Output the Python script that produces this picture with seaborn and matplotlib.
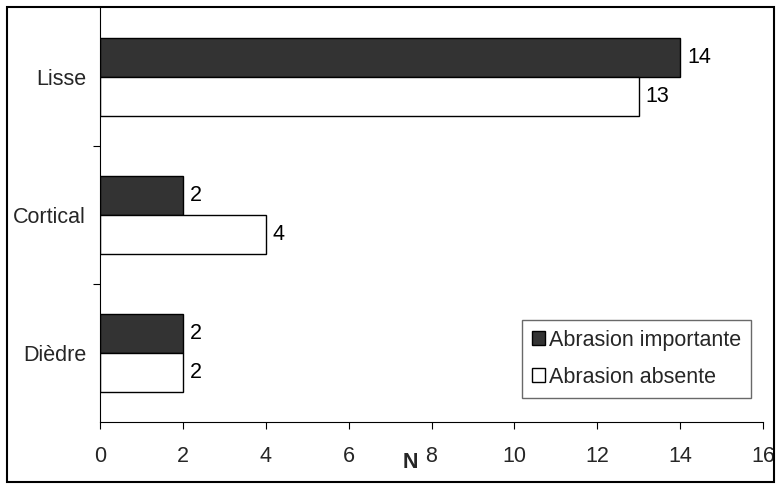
import matplotlib
matplotlib.use("Agg")
import matplotlib.pyplot as plt
import matplotlib.patches as mpatches
import seaborn as sns
import pandas as pd

categories = ["Lisse", "Cortical", "Dièdre"]
series_names = ["Abrasion importante", "Abrasion absente"]
importante = [14, 2, 2]
absente = [13, 4, 2]
x_ticks = [0, 2, 4, 6, 8, 10, 12, 14, 16]

df = pd.DataFrame({
    "cat": categories * 2,
    "serie": [series_names[0]] * 3 + [series_names[1]] * 3,
    "N": importante + absente,
})

FS = 15.5
sns.set_theme(style="white")
plt.rcParams['font.family'] = ['Liberation Sans', 'DejaVu Sans']
plt.rcParams['font.size'] = FS

fig = plt.figure(figsize=(7.76, 4.84), dpi=100)
ax = fig.add_axes([100/776, 62/484, 663/776, 414/484])

colors = {series_names[0]: "#333333", series_names[1]: "#ffffff"}
sns.barplot(data=df, y="cat", x="N", hue="serie", order=categories,
            hue_order=series_names, palette=colors, orient="h",
            width=0.57, edgecolor="black", linewidth=1.0, ax=ax,
            legend=False, saturation=1)

for cont in ax.containers:
    ax.bar_label(cont, padding=5, fontsize=FS, color="black")

ax.set_xlim(0, 16)
ax.set_ylim(2.5, -0.5)
ax.set_xticks(x_ticks)
ax.set_xticklabels([str(t) for t in x_ticks], fontsize=FS)
ax.set_yticks(range(len(categories)))
ax.set_yticklabels(categories, fontsize=FS)
ax.set_yticks([0.5, 1.5], minor=True)
ax.tick_params(axis="y", which="major", length=0, pad=10)
ax.tick_params(axis="y", which="minor", length=5, width=0.8, color="black", direction="out", left=True)
ax.tick_params(axis="x", which="major", length=5, width=0.8, color="black", direction="out", bottom=True, pad=12)
ax.set_xlabel("")
ax.set_ylabel("")
for s in ["top", "right"]:
    ax.spines[s].set_visible(False)
for s in ["left", "bottom"]:
    ax.spines[s].set_color("black")
    ax.spines[s].set_linewidth(0.8)

ax.text(0.468, -0.099, "N", transform=ax.transAxes, ha="center", va="center",
        fontweight="bold", fontsize=FS)

handles = [mpatches.Patch(facecolor=colors[n], edgecolor="black", linewidth=1.0, label=n)
           for n in series_names]
leg = ax.legend(handles=handles, loc="upper left",
                bbox_to_anchor=((522-100)/663, (422-320)/414),
                bbox_transform=ax.transAxes,
                frameon=True, fancybox=False, fontsize=FS,
                handlelength=0.6, handleheight=0.6, handletextpad=0.2,
                borderpad=0.45, labelspacing=0.75, borderaxespad=0)
leg.get_frame().set_edgecolor("#444444")
leg.get_frame().set_linewidth(1.0)

fig.patches.append(mpatches.Rectangle((7/776, 2/484), 767/776, 475/484,
                                      transform=fig.transFigure, fill=False,
                                      edgecolor="black", linewidth=1.5))

fig.savefig("out.png", dpi=100)
